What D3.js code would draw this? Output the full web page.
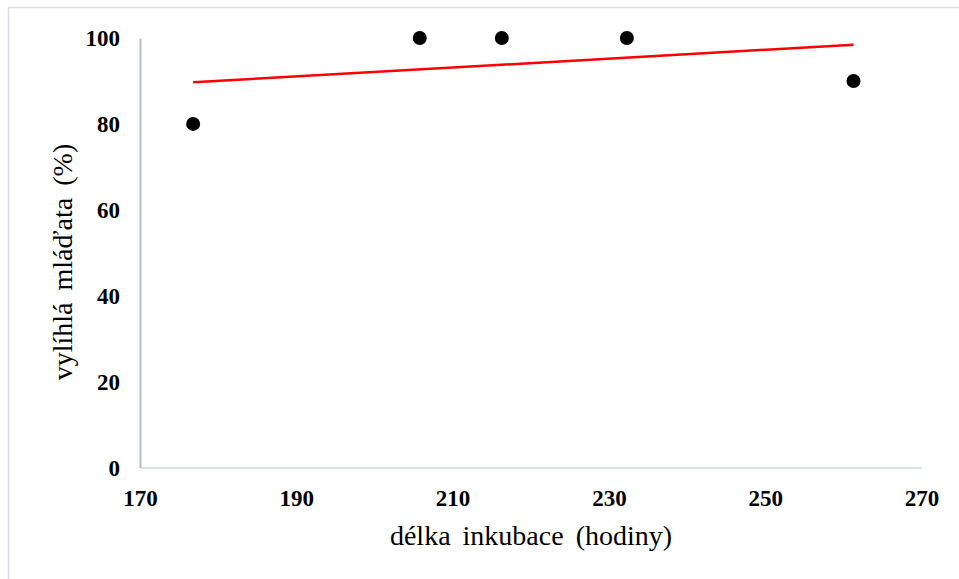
<!DOCTYPE html>
<html>
<head>
<meta charset="utf-8">
<script src="https://cdn.jsdelivr.net/npm/d3@7/dist/d3.min.js"></script>
<style>
  html, body { margin: 0; padding: 0; background: #fff; }
  svg { display: block; }
  .serif { font-family: "Liberation Serif", "Times New Roman", Times, "DejaVu Serif", serif; }
</style>
</head>
<body>
<svg id="chart" width="959" height="579"></svg>
<script>
// Incubation length (hours) and share of hatched chicks (%)
const incubationHours = [176.8, 205.8, 216.3, 232.3, 261.3];
const hatchedPercent  = [80, 100, 100, 100, 90];
const xTicks = [170, 190, 210, 230, 250, 270];
const yTicks = [0, 20, 40, 60, 80, 100];
const xTitle = "délka inkubace (hodiny)";
const yTitle = "vylíhlá mláďata (%)";

const svg = d3.select("#chart");
const W = 959, H = 579;

svg.append("rect").attr("width", W).attr("height", H).attr("fill", "#fff");
// chart area frame
svg.append("rect")
  .attr("x", 8.5).attr("y", 7.5).attr("width", W + 10).attr("height", H + 10)
  .attr("fill", "none").attr("stroke", "#dadde3").attr("stroke-width", 1.5);

const x = d3.scaleLinear().domain([170, 270]).range([140, 921.5]);
const y = d3.scaleLinear().domain([0, 100]).range([467.5, 38]);

// x axis
const xAxis = svg.append("g").attr("transform", `translate(0,${y(0)})`)
  .call(d3.axisBottom(x).tickValues(xTicks).tickSize(0).tickPadding(0));
xAxis.attr("font-family", null).attr("font-size", null);
xAxis.select(".domain").attr("stroke", "#dde1e8").attr("stroke-width", 2);
xAxis.selectAll("text")
  .attr("class", "serif")
  .attr("y", 38).attr("dy", 0)
  .attr("font-weight", "bold")
  .attr("font-size", 23).attr("fill", "#000");

// y axis
const yAxis = svg.append("g").attr("transform", `translate(${x(170)},0)`)
  .call(d3.axisLeft(y).tickValues(yTicks).tickSize(0).tickPadding(0));
yAxis.attr("font-family", null).attr("font-size", null);
yAxis.select(".domain").attr("stroke", "#b3bed3").attr("stroke-width", 2);
yAxis.selectAll("text")
  .attr("class", "serif")
  .attr("x", -20).attr("dy", "0.34em")
  .attr("font-weight", "bold")
  .attr("font-size", 23).attr("fill", "#000");

// least-squares trend line over the observed range
const pts = incubationHours.map((h, i) => [h, hatchedPercent[i]]);
const mx = d3.mean(pts, d => d[0]), my = d3.mean(pts, d => d[1]);
const slope = d3.sum(pts, d => (d[0] - mx) * (d[1] - my)) / d3.sum(pts, d => (d[0] - mx) ** 2);
const icpt = my - slope * mx;
const [x0, x1] = d3.extent(incubationHours);
svg.append("line")
  .attr("x1", x(x0)).attr("y1", y(icpt + slope * x0))
  .attr("x2", x(x1)).attr("y2", y(icpt + slope * x1))
  .attr("stroke", "#ff0000").attr("stroke-width", 2.5);

// observations
svg.append("g").selectAll("circle").data(pts).join("circle")
  .attr("cx", d => x(d[0])).attr("cy", d => y(d[1]))
  .attr("r", 7).attr("fill", "#000");

// axis titles
svg.append("text")
  .attr("class", "serif")
  .attr("x", 531).attr("y", 545)
  .attr("text-anchor", "middle")
  .attr("font-size", 28)
  .attr("word-spacing", 5).attr("fill", "#000")
  .text(xTitle);

svg.append("text")
  .attr("class", "serif")
  .attr("transform", "translate(72,262) rotate(-90)")
  .attr("text-anchor", "middle")
  .attr("font-size", 28)
  .attr("word-spacing", 5).attr("fill", "#000")
  .text(yTitle);
</script>
</body>
</html>
